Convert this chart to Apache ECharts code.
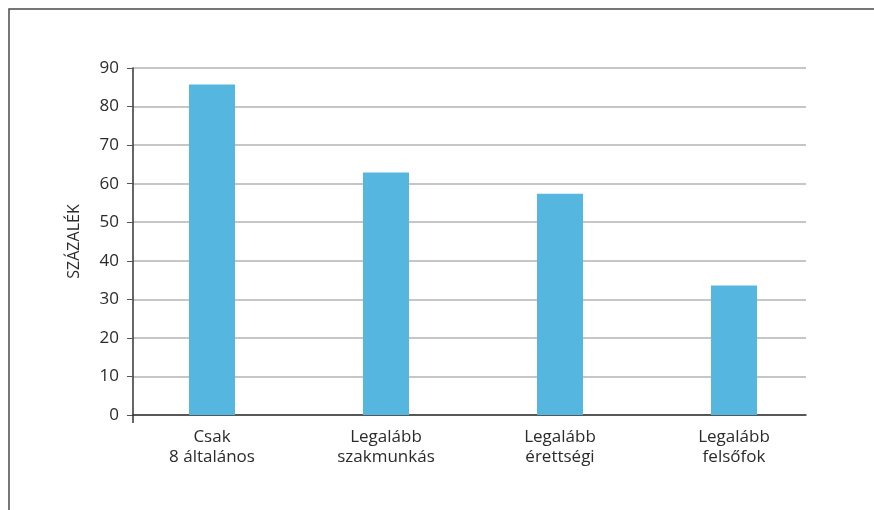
<!DOCTYPE html>
<html>
<head>
<meta charset="utf-8">
<script src="https://cdn.jsdelivr.net/npm/echarts@6/dist/echarts.min.js"></script>
<style>
  html, body {margin: 0; padding: 0; background: #fff;}
  #chart {width: 874px; height: 510px;}
</style>
</head>
<body>
<div id="chart"></div>
<script>
// kategóriák és értékek (százalék)
const categories = ['Csak\n8 általános', 'Legalább\nszakmunkás', 'Legalább\nérettségi', 'Legalább\nfelsőfok']
const values = [85.7, 62.9, 57.4, 33.6]
const yTicks = [0, 10, 20, 30, 40, 50, 60, 70, 80, 90]

const textColor = '#2b2b2b'
const font = 'Open Sans'

const chart = echarts.init(document.getElementById('chart'))

chart.setOption({
  animation: false,
  graphic: [{
    type: 'rect',
    shape: {x: 9, y: 9, width: 900, height: 600},
    style: {fill: 'none', stroke: '#4a4a4a', lineWidth: 1.5},
    silent: true
  }],
  grid: [
    {left: 133, right: 68, top: 68, bottom: 95},
    {left: 125, right: 53, top: 68, bottom: 95}
  ],
  xAxis: [
    {
      // tengelyvonal + bal alsó kis tüske
      gridIndex: 0,
      type: 'category',
      boundaryGap: false,
      data: ['', ''],
      axisLine: {lineStyle: {color: '#333', width: 1.5}},
      axisTick: {show: true, length: 8, interval: (i) => i === 0, lineStyle: {color: '#333', width: 1.5}},
      axisLabel: {show: false},
      splitLine: {show: false}
    },
    {
      gridIndex: 1,
      type: 'category',
      data: categories,
      axisLine: {show: false},
      axisTick: {show: false},
      axisLabel: {
        color: textColor,
        fontFamily: font,
        fontSize: 17,
        lineHeight: 20,
        margin: 12
      }
    }
  ],
  yAxis: [
    {
      gridIndex: 0,
      type: 'value',
      min: yTicks[0],
      max: yTicks[yTicks.length - 1],
      interval: 10,
      name: 'SZÁZALÉK',
      nameLocation: 'middle',
      nameGap: 51,
      nameRotate: 90,
      nameTextStyle: {color: textColor, fontFamily: font, fontSize: 16},
      axisLine: {show: true, lineStyle: {color: '#333', width: 1.5}},
      axisTick: {show: true, length: 6, lineStyle: {color: '#555'}},
      axisLabel: {color: textColor, fontFamily: font, fontSize: 17, margin: 14},
      splitLine: {lineStyle: {color: '#b3b3b3', width: 1.5}}
    },
    {
      gridIndex: 1,
      type: 'value',
      min: yTicks[0],
      max: yTicks[yTicks.length - 1],
      interval: 10,
      show: false,
      splitLine: {show: false}
    }
  ],
  series: [{
    type: 'bar',
    xAxisIndex: 1,
    yAxisIndex: 1,
    data: values,
    barWidth: 46,
    itemStyle: {color: '#55b7e0'}
  }]
})
</script>
</body>
</html>
